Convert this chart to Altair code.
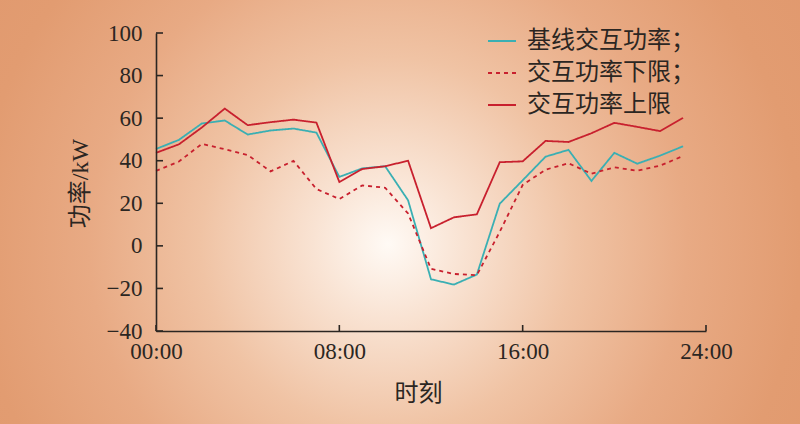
import altair as alt
import pandas as pd

# Hourly exchange power (kW)
hours = list(range(24))
base = [45.5, 49.8, 57.5, 58.9, 52.3, 54.2, 55.1, 53.2, 32.4, 36.4, 37.4, 21.4,
        -15.7, -18.2, -13.5, 19.8, 30.8, 41.9, 45.1, 30.5, 43.7, 38.6, 42.4, 46.8]
upper = [43.7, 47.7, 55.6, 64.5, 56.7, 58.1, 59.3, 57.9, 30.0, 36.1, 37.4, 40.0,
         8.3, 13.4, 14.8, 39.3, 39.7, 49.3, 48.8, 52.9, 57.8, 55.9, 53.9, 60.1]
lower = [35.2, 39.6, 47.9, 45.4, 42.7, 35.0, 39.9, 26.7, 22.0, 28.4, 27.3, 15.2,
         -10.8, -13.2, -13.8, 6.6, 28.6, 35.8, 38.8, 33.9, 36.9, 35.3, 37.7, 42.2]
series_names = ["基线交互功率；", "交互功率下限；", "交互功率上限"]
x_ticks = [0, 8, 16, 24]
y_ticks = [-40, -20, 0, 20, 40, 60, 80, 100]

W, H = 550, 298
PAD = {"left": 156, "top": 33, "right": 94, "bottom": 93}
TEAL = "#3aafb3"
RED = "#c8202e"
INK = "#2b2622"
FONT = "'Liberation Serif', 'Noto Sans CJK SC'"

rows = []
for name, vals in zip(series_names, [base, lower, upper]):
    for h, v in zip(hours, vals):
        rows.append({"hour": h, "value": v, "series": name})
df = pd.DataFrame(rows)

x_scale = alt.Scale(domain=[0, 24], nice=False, zero=False)
y_scale = alt.Scale(domain=[-40, 100], nice=False, zero=False)

x_axis = alt.Axis(
    values=x_ticks,
    labelExpr="(datum.value < 10 ? '0' : '') + datum.value + ':00'",
    labelFlush=False,
    ticks=False,
    grid=False,
    title="时刻",
    titleX=262,
    titleY=62,
    titleBaseline="middle",
    titleAlign="center",
    labelPadding=9,
    zindex=1,
)
y_axis = alt.Axis(
    values=y_ticks,
    labelFlush=False,
    ticks=False,
    grid=False,
    title="功率/kW",
    titleX=-76,
    titleY=150,
    titleBaseline="middle",
    titleAlign="center",
    labelPadding=14,
    zindex=1,
)

# radial background wash over the whole canvas
background = alt.Chart(pd.DataFrame({"k": [0]})).mark_rect(
    fill={
        "gradient": "radial",
        "x1": 0.485, "y1": 0.54, "r1": 0,
        "x2": 0.485, "y2": 0.54, "r2": 0.78,
        "stops": [
            {"offset": 0.0, "color": "#fffaf5"},
            {"offset": 0.12, "color": "#f9e3d3"},
            {"offset": 0.3, "color": "#f0c3a4"},
            {"offset": 0.48, "color": "#e8aa84"},
            {"offset": 0.66, "color": "#e29c71"},
            {"offset": 1.0, "color": "#df946a"},
        ],
    },
    stroke=None,
).encode(
    x=alt.value(-PAD["left"]),
    x2=alt.value(W + PAD["right"]),
    y=alt.value(-PAD["top"]),
    y2=alt.value(H + PAD["bottom"]),
)

legend = alt.Legend(
    title=None,
    orient="none",
    legendX=331,
    legendY=-7,
    symbolType="stroke",
    symbolSize=784,
    symbolStrokeWidth=2,
    labelFont=FONT,
    labelFontSize=24,
    labelColor=INK,
    labelOffset=10,
    labelLimit=400,
    rowPadding=5,
)

lines = alt.Chart(df).mark_line(strokeWidth=1.8).encode(
    x=alt.X("hour:Q", scale=x_scale, axis=x_axis),
    y=alt.Y("value:Q", scale=y_scale, axis=y_axis),
    color=alt.Color(
        "series:N",
        scale=alt.Scale(domain=series_names, range=[TEAL, RED, RED]),
        legend=legend,
    ),
    strokeDash=alt.StrokeDash(
        "series:N",
        scale=alt.Scale(domain=series_names, range=[[1, 0], [4, 4], [1, 0]]),
        legend=legend,
    ),
    order=alt.Order("series:N"),
)

# inward tick marks on both axes
y_tick_marks = alt.Chart(pd.DataFrame({"value": y_ticks})).mark_rule(
    color=INK, strokeWidth=1.6
).encode(
    y=alt.Y("value:Q", scale=y_scale, axis=y_axis),
    x=alt.value(0),
    x2=alt.value(7),
)

x_tick_marks = alt.Chart(pd.DataFrame({"hour": x_ticks})).mark_rule(
    color=INK, strokeWidth=1.6
).encode(
    x=alt.X("hour:Q", scale=x_scale, axis=x_axis),
    y=alt.value(H),
    y2=alt.value(H - 6),
)

chart = alt.layer(background, lines, y_tick_marks, x_tick_marks).properties(
    width=W,
    height=H,
    padding=PAD,
    autosize=alt.AutoSizeParams(type="none"),
    background="#df946a",
).configure_view(
    stroke=None
).configure_axis(
    domainColor=INK,
    domainWidth=1.6,
    labelFont="Liberation Serif",
    labelFontSize=23,
    labelColor=INK,
    titleFont=FONT,
    titleFontSize=24,
    titleFontWeight="normal",
    titleColor=INK,
)

chart.save("out.html", embed_options={"renderer": "svg", "actions": False})
